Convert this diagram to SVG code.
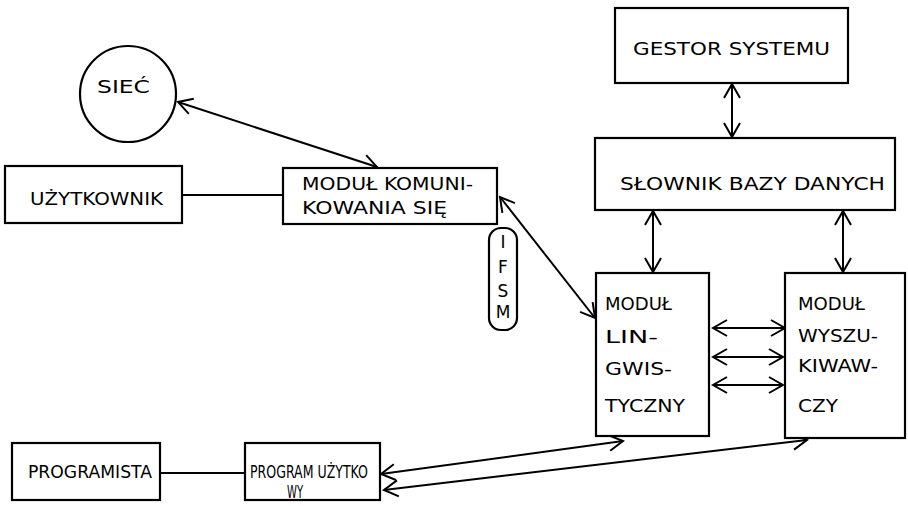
<svg xmlns="http://www.w3.org/2000/svg" width="908" height="506" viewBox="0 0 908 506">
<defs>
<style>
.box{fill:#fff;stroke:#000;stroke-width:2.2}
.t{font-family:"DejaVu Sans","Liberation Sans",sans-serif;font-size:17px;fill:#000}
.c{fill:none;stroke:#000;stroke-width:2}
</style>
<marker id="a" viewBox="0 0 20 20" refX="18" refY="10" markerWidth="20" markerHeight="20" markerUnits="userSpaceOnUse" orient="auto-start-reverse">
<path d="M4,2 L18,10 L4,18" fill="none" stroke="#000" stroke-width="2"/>
</marker>
</defs>
<rect width="908" height="506" fill="#fff"/>
<g id="connectors">
<line class="c" x1="178" y1="102" x2="377" y2="167" marker-start="url(#a)" marker-end="url(#a)"/>
<line class="c" x1="182" y1="195" x2="283" y2="195"/>
<line class="c" x1="500" y1="197" x2="595" y2="318" marker-start="url(#a)" marker-end="url(#a)"/>
<line class="c" x1="732" y1="84" x2="732" y2="137" marker-start="url(#a)" marker-end="url(#a)"/>
<line class="c" x1="653" y1="211" x2="653" y2="272" marker-start="url(#a)" marker-end="url(#a)"/>
<line class="c" x1="843" y1="211" x2="843" y2="272" marker-start="url(#a)" marker-end="url(#a)"/>
<line class="c" x1="713" y1="328" x2="785" y2="328" marker-start="url(#a)" marker-end="url(#a)"/>
<line class="c" x1="713" y1="357" x2="783" y2="357" marker-start="url(#a)" marker-end="url(#a)"/>
<line class="c" x1="713" y1="385" x2="783" y2="385" marker-start="url(#a)" marker-end="url(#a)"/>
<line class="c" x1="160" y1="473" x2="245" y2="473"/>
<line class="c" x1="381" y1="474" x2="623" y2="441" marker-start="url(#a)" marker-end="url(#a)"/>
<line class="c" x1="384" y1="490" x2="807" y2="440" marker-start="url(#a)" marker-end="url(#a)"/>
</g>
<g id="siec">
<circle class="box" cx="128" cy="94" r="48"/>
<text class="t" x="97" y="93" textLength="53" lengthAdjust="spacingAndGlyphs">SIEĆ</text>
</g>
<g id="uzytkownik">
<rect class="box" x="5" y="166" width="177" height="57"/>
<text class="t" x="30" y="205" textLength="133" lengthAdjust="spacingAndGlyphs">UŻYTKOWNIK</text>
</g>
<g id="modul-komunikowania">
<rect class="box" x="283" y="168" width="214" height="56"/>
<text class="t" x="302" y="190" textLength="171" lengthAdjust="spacingAndGlyphs">MODUŁ KOMUNI-</text>
<text class="t" x="302" y="214" textLength="145" lengthAdjust="spacingAndGlyphs">KOWANIA SIĘ</text>
</g>
<g id="ifsm">
<rect class="box" x="489" y="228" width="28" height="102" rx="12"/>
<text class="t" x="503" y="248" text-anchor="middle">I</text>
<text class="t" x="503" y="273" text-anchor="middle">F</text>
<text class="t" x="503" y="297" text-anchor="middle">S</text>
<text class="t" x="503" y="318" text-anchor="middle">M</text>
</g>
<g id="gestor">
<rect class="box" x="615" y="8" width="233" height="75"/>
<text class="t" x="633" y="55" textLength="197" lengthAdjust="spacingAndGlyphs">GESTOR SYSTEMU</text>
</g>
<g id="slownik">
<rect class="box" x="595" y="138" width="300" height="72"/>
<text class="t" x="620" y="190" textLength="265" lengthAdjust="spacingAndGlyphs">SŁOWNIK BAZY DANYCH</text>
</g>
<g id="modul-lingwistyczny">
<rect class="box" x="596" y="273" width="113" height="163"/>
<text class="t" x="605" y="310" textLength="67" lengthAdjust="spacingAndGlyphs">MODUŁ</text>
<text class="t" x="605" y="343" textLength="53" lengthAdjust="spacingAndGlyphs">LIN-</text>
<text class="t" x="605" y="375" textLength="67" lengthAdjust="spacingAndGlyphs">GWIS-</text>
<text class="t" x="605" y="412" textLength="80" lengthAdjust="spacingAndGlyphs">TYCZNY</text>
</g>
<g id="modul-wyszukiwawczy">
<rect class="box" x="785" y="273" width="120" height="165"/>
<text class="t" x="798" y="310" textLength="67" lengthAdjust="spacingAndGlyphs">MODUŁ</text>
<text class="t" x="798" y="342" textLength="80" lengthAdjust="spacingAndGlyphs">WYSZU-</text>
<text class="t" x="798" y="372" textLength="80" lengthAdjust="spacingAndGlyphs">KIWAW-</text>
<text class="t" x="798" y="412" textLength="40" lengthAdjust="spacingAndGlyphs">CZY</text>
</g>
<g id="programista">
<rect class="box" x="12" y="443" width="148" height="57"/>
<text class="t" x="28" y="478" textLength="124" lengthAdjust="spacingAndGlyphs">PROGRAMISTA</text>
</g>
<g id="program-uzytkowy">
<rect class="box" x="245" y="443" width="135" height="57"/>
<text class="t" x="250" y="478" font-size="15" textLength="118" lengthAdjust="spacingAndGlyphs">PROGRAM UŻYTKO</text>
<text class="t" x="287" y="498" font-size="13" textLength="16" lengthAdjust="spacingAndGlyphs">WY</text>
</g>
</svg>
